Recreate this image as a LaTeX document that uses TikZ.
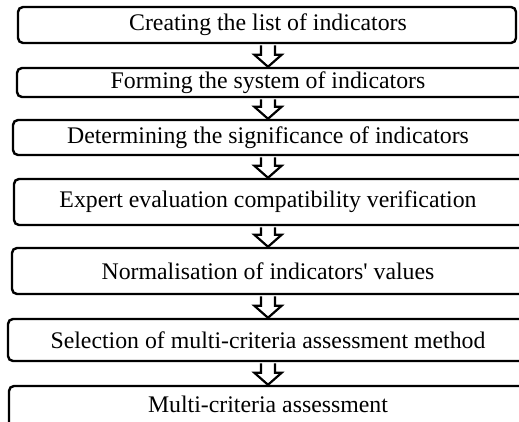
\documentclass[tikz,border=0pt]{standalone}
\usepackage{fontspec}
\setmainfont{Liberation Serif}[Ligatures=TeXOff]
\usetikzlibrary{fit}
\begin{document}
\begin{tikzpicture}[x=0.5pt,y=-0.5pt,
  stagebox/.style={draw=black,line width=1.2pt,rounded corners=2.5pt,inner sep=0pt,fill=white},
  stagetext/.style={font=\fontsize{11.9}{14}\selectfont,inner sep=0pt,anchor=center},
  blockarrow/.style={draw=black,line width=1.1pt,fill=white,line join=miter}]
\clip (0,0) rectangle (519,422);
\fill[white] (0,0) rectangle (519,422);
% boxes
\node[stagebox,fit={(18,7)(516,43)}] (b1) {};
\node[stagebox,fit={(17,68)(540,97)}] (b2) {};
\node[stagebox,fit={(13,120)(540,155)}] (b3) {};
\node[stagebox,fit={(14,179)(540,225)}] (b4) {};
\node[stagebox,fit={(12,248)(540,294)}] (b5) {};
\node[stagebox,fit={(8,319)(540,361)}] (b6) {};
\node[stagebox,fit={(9,386)(540,450)}] (b7) {};
% texts
\node[stagetext] (t1) at (268,25) {Creating the list of indicators};
\node[stagetext] (t2) at (268,82.5) {Forming the system of indicators};
\node[stagetext] (t3) at (268,137.5) {Determining the significance of indicators};
\node[stagetext] (t4) at (268,202) {Expert evaluation compatibility verification};
\node[stagetext] (t5) at (268,271) {Normalisation of indicators' values};
\node[stagetext] (t6) at (268,340) {Selection of multi-criteria assessment method};
\node[stagetext] (t7) at (268,404) {Multi-criteria assessment};
% arrows
\foreach \a/\b in {b1/b2,b2/b3,b3/b4,b4/b5,b5/b6,b6/b7}{
  \path (\a.south -| 268,0) coordinate (s) (\b.north -| 268,0) coordinate (e);
  \draw[blockarrow] ([xshift=-3.5pt,yshift=-0.6pt]s) -- ([xshift=-3.5pt,yshift=6pt]e) -- ([xshift=-6.8pt,yshift=6pt]e) -- (e)
    -- ([xshift=6.8pt,yshift=6pt]e) -- ([xshift=3.5pt,yshift=6pt]e) -- ([xshift=3.5pt,yshift=-0.6pt]s);
}
\end{tikzpicture}
\end{document}
